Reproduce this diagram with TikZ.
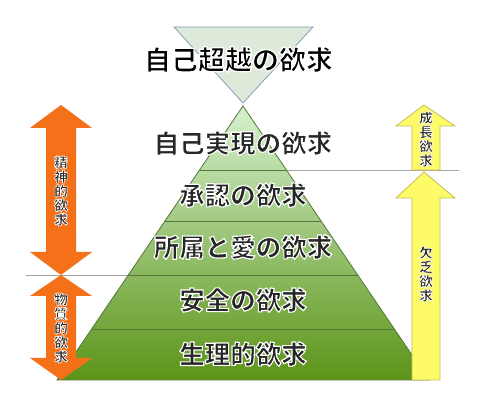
\documentclass[tikz,border=0pt]{standalone}
\usepackage{fontspec}
\setmainfont{Noto Sans CJK JP}[BoldFeatures={FakeBold=4.5}]
\newfontfamily\titlefont{Noto Sans CJK JP}[BoldFeatures={FakeBold=5}]
\newfontfamily\sidefont{Noto Sans CJK JP}[BoldFeatures={FakeBold=5}]
\usetikzlibrary{calc}
\definecolor{arrorange}{HTML}{F4711A}
\definecolor{arryellow}{HTML}{FDFB68}
\definecolor{arryellowline}{HTML}{C5BE5A}
\definecolor{pyrline}{HTML}{55763A}
\definecolor{guidegray}{HTML}{A6A6A6}
\definecolor{invfill}{HTML}{DDE9D9}
\definecolor{invline}{HTML}{7A98B8}
\definecolor{pyrtop}{HTML}{D5F1CE}
\definecolor{pyrmid}{HTML}{9CCB7C}
\definecolor{pyrbot}{HTML}{5C9418}
\newcommand\halostroke{\special{pdf:literal direct 1 1 1 RG}}
\begin{document}
\begin{tikzpicture}[x=1pt,y=-1pt,
  lay/.style={font=\bfseries\fontsize{25.5}{26}\selectfont, text=black!85, inner sep=0pt},
  ttl/.style={font=\titlefont\bfseries\fontsize{27}{28}\selectfont, text=black, inner sep=0pt},
  side/.style={font=\sidefont\bfseries\fontsize{13.5}{14.3}\selectfont, text=black!85, align=center, inner sep=0pt},
  orangearrow/.style={fill=arrorange, draw=none},
  yellowarrow/.style={fill=arryellow, draw=arryellowline, line width=0.8pt},
  divline/.style={draw=pyrline, line width=0.8pt},
  guide/.style={draw=guidegray, line width=0.8pt}]
\useasboundingbox (0,0) rectangle (491,409);
\fill[white] (0,0) rectangle (491,409);
% guide lines
\coordinate (g1a) at (243,170);
\coordinate (g1b) at (459,170);
\coordinate (g2a) at (26,275);
\coordinate (g2b) at (243,275);
\draw[guide] (g1a) -- (g1b);
\draw[guide] (g2a) -- (g2b);
% pyramid
\coordinate (A) at (243,106);
\coordinate (L) at (57,380);
\coordinate (R) at (429,380);
\shade[top color=pyrtop, middle color=pyrmid, bottom color=pyrbot] (A) -- (L) -- (R) -- cycle;
\draw[divline] (A) -- (L) -- (R) -- cycle;
\foreach \t in {0.2336,0.4197,0.6168,0.8139}
  \draw[divline] ($(A)!\t!(L)$) -- ($(A)!\t!(R)$);
% inverted triangle
\coordinate (T1) at (174,27);
\coordinate (T2) at (313,27);
\coordinate (T3) at (243,103);
\filldraw[fill=invfill, draw=invline, line width=0.7pt] (T1) -- (T2) -- (T3) -- cycle;
% yellow arrows
\filldraw[yellowarrow] (424,105) -- (455,126) -- (440,126) -- (440,170) -- (412,170) -- (412,126) -- (396,126) -- cycle;
\filldraw[yellowarrow] (424,172) -- (455,198) -- (440,198) -- (440,380) -- (412,380) -- (412,198) -- (396,198) -- cycle;
% orange arrows
\fill[orangearrow] (61,105) -- (92,128) -- (76,128) -- (76,252) -- (92,252) -- (61,275) -- (30,252) -- (46,252) -- (46,128) -- (30,128) -- cycle;
\fill[orangearrow] (61,275) -- (92,296) -- (76,296) -- (76,358) -- (92,358) -- (61,380) -- (30,358) -- (46,358) -- (46,296) -- (30,296) -- cycle;
% texts
\node[ttl] (title) at (238.5,59.5) {\halostroke 自己超越の欲求};
\node[lay] (l5) at (243,143) {\halostroke 自己実現の欲求};
\node[lay] (l4) at (243,195) {\halostroke 承認の欲求};
\node[lay] (l3) at (243,247) {\halostroke 所属と愛の欲求};
\node[lay] (l2) at (243,300) {\halostroke 安全の欲求};
\node[lay] (l1) at (243,354) {\halostroke 生理的欲求};
\node[side] (s1) at (61,191) {\halostroke 精\\神\\的\\欲\\求};
\node[side] (s2) at (61,328) {\halostroke 物\\質\\的\\欲\\求};
\node[side] (s3) at (426,139) {\halostroke 成\\長\\欲\\求};
\node[side] (s4) at (426,274) {\halostroke 欠\\乏\\欲\\求};
\end{tikzpicture}
\end{document}
